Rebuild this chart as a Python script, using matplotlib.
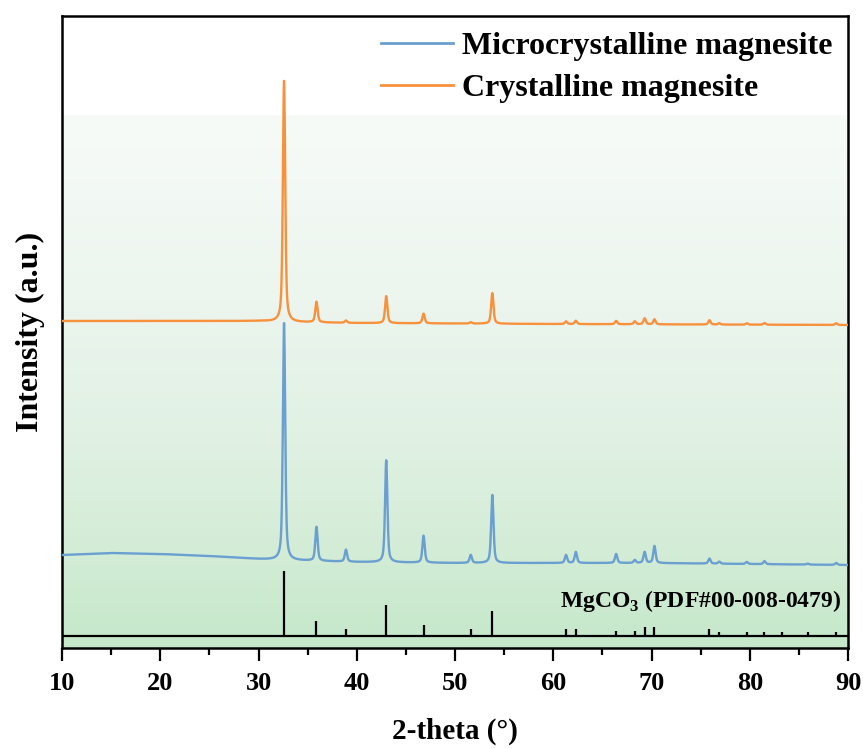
import numpy as np
import matplotlib
matplotlib.use("Agg")
import matplotlib.pyplot as plt
from matplotlib.colors import LinearSegmentedColormap

# ---------------- data ----------------
# Reference pattern MgCO3 (PDF#00-008-0479): positions and stick heights
ref_pos = [32.6, 35.9, 38.9, 43.0, 46.8, 51.6, 53.8, 61.3, 62.3, 66.4, 68.3,
           69.3, 70.3, 75.9, 76.9, 79.7, 81.5, 83.3, 85.9, 88.8]
ref_h = [65, 15, 6.7, 31, 11, 6.7, 25.5, 6.7, 6.7, 5, 5,
         8.7, 9, 6.7, 4, 4, 4, 4, 4, 4.5]

# Microcrystalline magnesite: baseline points and peaks
micro_base_x = [10, 15, 20, 25, 30, 32, 40, 50, 60, 70, 80, 90]
micro_base_y = [93, 95, 94, 92, 89, 88, 86, 85, 85, 85, 84, 83]
micro_pk_pos = [32.6, 35.9, 38.9, 43.0, 46.8, 51.6, 53.8, 61.3, 62.3, 66.4, 68.3,
                69.3, 70.3, 75.9, 76.9, 79.7, 81.5, 85.9, 88.8]
micro_pk_h = [237, 34, 12, 102, 27, 8, 68, 8, 11, 9, 3,
              11, 17, 5, 2, 2, 3, 1, 2]

# Crystalline magnesite: baseline points and peaks
cryst_base_x = [10, 20, 30, 33, 40, 60, 90]
cryst_base_y = [327, 327, 327, 326, 325, 324, 323]
cryst_pk_pos = [32.6, 35.9, 38.9, 43.0, 46.8, 51.6, 53.8, 61.3, 62.3, 66.4, 68.3,
                69.3, 70.3, 75.9, 76.9, 79.7, 81.5, 88.8]
cryst_pk_h = [241, 20.5, 2.3, 27, 9.7, 1.3, 30.6, 2.7, 3.3, 3.3, 3,
              6, 5, 4.3, 1.3, 1.3, 1.7, 1.7]

xticks = [10, 20, 30, 40, 50, 60, 70, 80, 90]
series_names = ["Microcrystalline magnesite", "Crystalline magnesite"]
ref_label = r"MgCO$_\mathbf{3}$ (PDF#00-008-0479)"
ref_baseline = 12


def pattern(x, bx, by, pos, h, fwhm=0.28, eta=0.55):
    y = np.interp(x, bx, by)
    for p, a in zip(pos, h):
        d = (x - p) / (fwhm / 2)
        lor = 1.0 / (1.0 + d ** 2)
        gau = np.exp(-np.log(2) * d ** 2)
        y = y + a * (eta * lor + (1 - eta) * gau)
    return y


x = np.linspace(10, 90, 4001)
y_micro = pattern(x, micro_base_x, micro_base_y, micro_pk_pos, micro_pk_h)
y_cryst = pattern(x, cryst_base_x, cryst_base_y, cryst_pk_pos, cryst_pk_h)

# ---------------- figure ----------------
plt.rcParams["font.family"] = ["Liberation Serif", "DejaVu Serif"]
plt.rcParams["font.weight"] = "bold"
plt.rcParams["mathtext.fontset"] = "custom"
plt.rcParams["mathtext.rm"] = "Liberation Serif:bold"
plt.rcParams["mathtext.bf"] = "Liberation Serif:bold"

fig = plt.figure(figsize=(8.63, 7.49), dpi=100)
ax = fig.add_axes([62 / 863, 101 / 749, 786 / 863, 632 / 749])

ymax = 632
ax.set_xlim(10, 90)
ax.set_ylim(0, ymax)

# background gradient (white at top -> light green at bottom)
stops = [0.0, 0.155, 0.157, 0.45, 0.68, 0.86, 1.0]
cols = ["#ffffff", "#ffffff", "#f7fbf8", "#ecf5ee", "#e0f1e3", "#d2ecd5", "#c5e8ca"]
cmap = LinearSegmentedColormap.from_list("bg", list(zip(stops, cols)))
grad = np.linspace(0, 1, 600).reshape(-1, 1)
ax.imshow(grad, cmap=cmap, aspect="auto", extent=[10, 90, 0, ymax],
          origin="upper", zorder=0, interpolation="bilinear")
ax.set_xlim(10, 90)
ax.set_ylim(0, ymax)

blue = "#6a9fd0"
orange = "#f7913c"
ax.plot(x, y_micro, color=blue, lw=1.7, label=series_names[0], zorder=3)
ax.plot(x, y_cryst, color=orange, lw=1.7, label=series_names[1], zorder=3)

# reference sticks
ax.axhline(ref_baseline, color="black", lw=1.6, zorder=4)
ax.vlines(ref_pos, ref_baseline, [ref_baseline + h for h in ref_h],
          color="black", lw=1.6, zorder=4)
ax.text(89.3, 47, ref_label, ha="right", va="center", fontsize=17,
        fontweight="bold", zorder=5)

# axes styling
for s in ax.spines.values():
    s.set_linewidth(1.8)
    s.set_color("black")
ax.set_xticks(xticks)
ax.set_xticks(np.arange(15, 90, 10), minor=True)
ax.set_yticks([])
ax.tick_params(axis="x", which="major", direction="out", length=9.5, width=1.6,
               labelsize=19, pad=8)
ax.tick_params(axis="x", which="minor", direction="out", length=5, width=1.6)
for lab in ax.get_xticklabels():
    lab.set_fontweight("bold")

ax.set_xlabel("2-theta (°)", fontsize=21, fontweight="bold", labelpad=16)
ax.set_ylabel("Intensity (a.u.)", fontsize=23, fontweight="bold", labelpad=12)

leg = ax.legend(loc="upper right", bbox_to_anchor=(1.005, 1.005), frameon=False,
                prop={"size": 23, "weight": "bold"}, handlelength=2.25,
                handletextpad=0.3, labelspacing=0.38, borderaxespad=0.2)
for line in leg.get_lines():
    line.set_linewidth(2)

fig.savefig("out.png", dpi=100)
